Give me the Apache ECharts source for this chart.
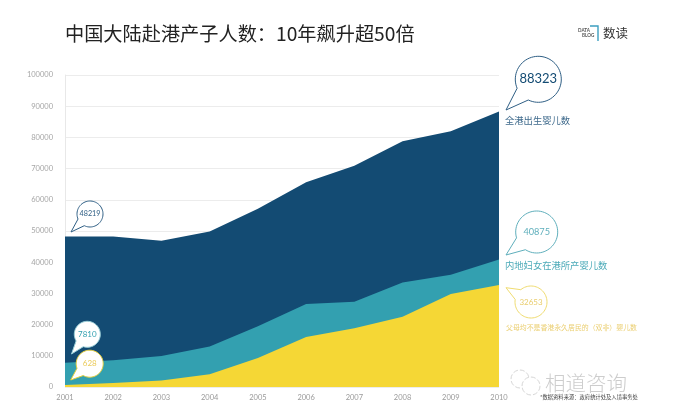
<!DOCTYPE html>
<html><head><meta charset="utf-8">
<style>html,body{margin:0;padding:0;background:#fff}#c{width:695px;height:414px}</style>
<script src="https://cdn.jsdelivr.net/npm/echarts@6/dist/echarts.min.js"></script>
</head><body><div id="c"></div>
<script>
const years = ['2001','2002','2003','2004','2005','2006','2007','2008','2009','2010'];
const totalBirths = [48219,48200,46900,49800,57100,65600,70900,78800,82000,88323];
const mainlandBirths = [7810,8600,9900,13000,19500,26600,27300,33500,36000,40875];
const doubleNonBirths = [620,1250,2070,4100,9300,16000,18800,22500,29800,32653];
const FONT = '"Noto Sans CJK SC","Noto Sans",sans-serif';
const NUMF = 'Lato,"Noto Sans",sans-serif';
const DARK='#134B73', TEAL='#33A0B0', YEL='#F5D735';

function bubble(cx,cy,r,tx,ty,color,label,size,textColor,lw){
  const tipA=Math.atan2(ty-cy,tx-cx), gap=0.36, pts=[];
  for(let i=0;i<=60;i++){const a=tipA+gap+(2*Math.PI-2*gap)*i/60;pts.push([cx+r*Math.cos(a),cy+r*Math.sin(a)]);}
  pts.push([tx,ty]);
  return [
    {type:'polygon',z:20,shape:{points:pts},style:{fill:'#fff',stroke:color,lineWidth:lw||1}},
    {type:'text',z:21,x:cx,y:cy,style:{text:label,fill:textColor||color,font:size+'px '+NUMF,align:'center',verticalAlign:'middle'}}
  ];
}
function txt(x,y,s,size,fill,weight){
  return {type:'text',z:21,x:x,y:y,style:{text:s,fill:fill,font:(weight?weight+' ':'')+size+'px '+FONT,verticalAlign:'middle'}};
}
function area(name,data,color,z){
  return {name,type:'line',data,z,symbol:'none',smooth:false,lineStyle:{width:0},areaStyle:{color:color,opacity:1}};
}
const graphics=[].concat(
  bubble(90,214,13,71,232,'#2F5F85','48219',7.2),
  bubble(87.3,334.3,13,71.5,354,'#9AD0D9','7810',8,TEAL),
  bubble(89.7,363.7,13.5,70.7,380,'#E8CF3A','628',8,'#EBCB5A'),
  bubble(538.3,79.3,23,506,110,'#2F5F85','88323',13,DARK),
  bubble(536.7,232,21,506,255,'#5FAFBC','40875',9.2),
  bubble(531,302,16,506,287.7,'#F0DC70','32653',8,'#E9CD6E'),
  [
    txt(505,120,'全港出生婴儿数',9.3,'#3F6A8C'),
    txt(505,265,'内地妇女在港所产婴儿数',9.3,'#4BAAB8'),
    txt(506,327,'父母均不是香港永久居民的（双非）婴儿数',6.9,'#EBCF72'),
    txt(540,397,'*数据资料来源：政府统计处及入境事务处',5.3,'#444'),
    txt(545,383,'相道咨询',20.5,'#CDCDCD',300),
    {type:'circle',z:19,shape:{cx:520,cy:379,r:9},style:{fill:'#fff',stroke:'#c4c4c4',lineWidth:.7,lineDash:[5,2]}},
    {type:'circle',z:19,shape:{cx:531,cy:386,r:9},style:{fill:'#fff',stroke:'#c4c4c4',lineWidth:.7,lineDash:[5,2]}},
    {type:'text',z:21,x:578,y:31,style:{text:'DATA',fill:'#555',font:'bold 4.6px '+NUMF,verticalAlign:'middle'}},
    {type:'text',z:21,x:582,y:36,style:{text:'BLOG',fill:'#555',font:'bold 4.6px '+NUMF,verticalAlign:'middle'}},
    {type:'polyline',z:20,shape:{points:[[590,26],[598,26],[598,41]]},style:{fill:'none',stroke:'#3D9FC0',lineWidth:1.4}},
    txt(603,33,'数读',12.5,'#333')
  ]
);
const chart=echarts.init(document.getElementById('c'),null,{renderer:'canvas'});
chart.setOption({
  animation:false,backgroundColor:'#fff',
  title:{text:'中国大陆赴港产子人数：10年飙升超50倍',left:60,top:19,textStyle:{fontFamily:FONT,fontSize:19.2,fontWeight:400,color:'#222'}},
  grid:{left:65,right:196,top:75,bottom:27},
  xAxis:{type:'category',data:years,boundaryGap:false,
    axisLine:{show:false},axisTick:{show:false},
    axisLabel:{color:'#9a9a9a',fontSize:7.5,fontFamily:NUMF,margin:7,interval:0,hideOverlap:false,showMaxLabel:true,showMinLabel:true}},
  yAxis:{type:'value',min:0,max:100000,interval:10000,
    axisLine:{show:true,lineStyle:{color:'#e8e8e8'}},axisTick:{show:false},
    axisLabel:{color:'#a6a6a6',fontSize:7.5,fontFamily:NUMF,margin:12,formatter:v=>String(v)},
    splitLine:{lineStyle:{color:'#ececec',width:1}}},
  series:[area('全港出生婴儿数',totalBirths,DARK,2),area('内地妇女在港所产婴儿数',mainlandBirths,TEAL,3),area('父母均不是香港永久居民的（双非）婴儿数',doubleNonBirths,YEL,4)],
  graphic:graphics
});
</script></body></html>
